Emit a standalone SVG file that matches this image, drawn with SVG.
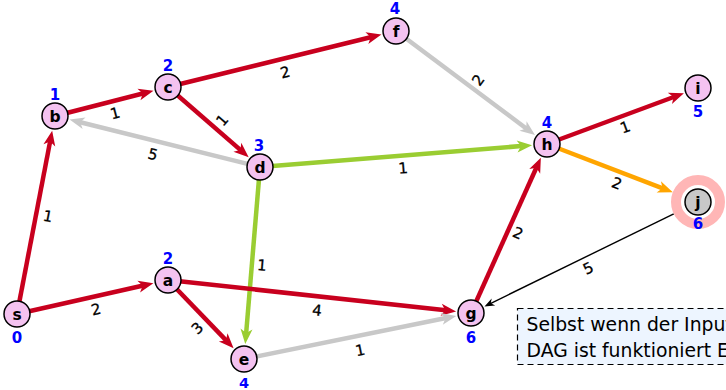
<svg xmlns="http://www.w3.org/2000/svg" width="726" height="390" viewBox="0 0 726 390">
<style>
.e{fill:none;stroke-width:4.5;stroke-linecap:butt}
.red{stroke:#c8001e}
.gray{stroke:#c8c8c8}
.green{stroke:#9acd32}
.orange{stroke:#ffa500}
.thin{stroke:#000;stroke-width:1.4;fill:none}
.n{fill:#f4c2f0;stroke:#000;stroke-width:1.5}
.nl{font-family:"DejaVu Sans",sans-serif;font-weight:bold;font-size:15.5px;text-anchor:middle;fill:#000}
.d{font-family:"DejaVu Sans",sans-serif;font-weight:bold;font-size:15px;text-anchor:middle;fill:#0000ff}
.w{font-family:"DejaVu Sans",sans-serif;font-size:15px;text-anchor:middle;fill:#000;stroke:#000;stroke-width:0.3}
.note{font-family:"DejaVu Sans",sans-serif;font-size:18.8px;fill:#000}
</style>
<defs>
<marker id="aR" markerUnits="userSpaceOnUse" orient="auto" refX="7" refY="0" markerWidth="20" markerHeight="20" overflow="visible"><path d="M0,-6 L15,0 L0,6 L4,0 z" fill="#c8001e"/></marker>
<marker id="aG" markerUnits="userSpaceOnUse" orient="auto" refX="7" refY="0" markerWidth="20" markerHeight="20" overflow="visible"><path d="M0,-6 L15,0 L0,6 L4,0 z" fill="#c8c8c8"/></marker>
<marker id="aL" markerUnits="userSpaceOnUse" orient="auto" refX="7" refY="0" markerWidth="20" markerHeight="20" overflow="visible"><path d="M0,-6 L15,0 L0,6 L4,0 z" fill="#9acd32"/></marker>
<marker id="aO" markerUnits="userSpaceOnUse" orient="auto" refX="7" refY="0" markerWidth="20" markerHeight="20" overflow="visible"><path d="M0,-6 L15,0 L0,6 L4,0 z" fill="#ffa500"/></marker>
<marker id="aK" markerUnits="userSpaceOnUse" orient="auto" refX="4" refY="0" markerWidth="14" markerHeight="14" overflow="visible"><path d="M0,-4 L10,0 L0,4 L3,0 z" fill="#000"/></marker>
</defs>
<g id="connectors">
<line class="e red" x1="17" y1="314" x2="50.66" y2="138.59" marker-end="url(#aR)"/>
<line class="e red" x1="17" y1="314" x2="145.56" y2="285.05" marker-end="url(#aR)"/>
<line class="e red" x1="55" y1="116" x2="145.73" y2="92.72" marker-end="url(#aR)"/>
<line class="e red" x1="168" y1="87" x2="373.66" y2="36.49" marker-end="url(#aR)"/>
<line class="e red" x1="168" y1="87" x2="242.64" y2="151.91" marker-end="url(#aR)"/>
<line class="e gray" x1="260" y1="167" x2="77.32" y2="121.55" marker-end="url(#aG)"/>
<line class="e green" x1="260" y1="167" x2="524.07" y2="145.84" marker-end="url(#aL)"/>
<line class="e green" x1="260" y1="167" x2="245.91" y2="336.08" marker-end="url(#aL)"/>
<line class="e gray" x1="396" y1="31" x2="528.59" y2="130.22" marker-end="url(#aG)"/>
<line class="e red" x1="547" y1="144" x2="676.44" y2="96.0" marker-end="url(#aR)"/>
<line class="e orange" x1="547" y1="144" x2="665.33" y2="189.45" marker-end="url(#aO)"/>
<line class="thin" x1="673.75" y1="213.86" x2="489.86" y2="303.77" marker-end="url(#aK)"/>
<line class="e red" x1="471" y1="313" x2="537.57" y2="164.98" marker-end="url(#aR)"/>
<line class="e red" x1="168" y1="280" x2="448.14" y2="310.51" marker-end="url(#aR)"/>
<line class="e red" x1="168" y1="280" x2="228.05" y2="342.42" marker-end="url(#aR)"/>
<line class="e gray" x1="244" y1="359" x2="448.46" y2="317.57" marker-end="url(#aG)"/>
</g>
<g id="weights">
<text class="w" transform="translate(48,216) rotate(11)" y="5.5">1</text>
<text class="w" transform="translate(96,309) rotate(-12.7)" y="5.5">2</text>
<text class="w" transform="translate(115,113) rotate(-14.4)" y="5.5">1</text>
<text class="w" transform="translate(285,72) rotate(-13.8)" y="5.5">2</text>
<text class="w" transform="translate(222,120) rotate(-49)" y="5.5">1</text>
<text class="w" transform="translate(153,154) rotate(14)" y="5.5">5</text>
<text class="w" transform="translate(403,168) rotate(-4.6)" y="5.5">1</text>
<text class="w" transform="translate(262,265) rotate(4.8)" y="5.5">1</text>
<text class="w" transform="translate(478,80) rotate(-53)" y="5.5">2</text>
<text class="w" transform="translate(625,127) rotate(-20.3)" y="5.5">1</text>
<text class="w" transform="translate(617,183) rotate(21)" y="5.5">2</text>
<text class="w" transform="translate(588,268) rotate(-26)" y="5.5">5</text>
<text class="w" transform="translate(518,233) rotate(24)" y="5.5">2</text>
<text class="w" transform="translate(317,310) rotate(6.2)" y="5.5">4</text>
<text class="w" transform="translate(197,328) rotate(-44)" y="5.5">3</text>
<text class="w" transform="translate(360,350) rotate(-11.5)" y="5.5">1</text>
</g>
<g id="node-s"><circle class="n" cx="17" cy="314" r="13"/><text class="nl" x="17" y="319.5">s</text><text class="d" x="17" y="342.5">0</text></g>
<g id="node-a"><circle class="n" cx="168" cy="280" r="13"/><text class="nl" x="168" y="285.5">a</text><text class="d" x="168" y="263.5">2</text></g>
<g id="node-b"><circle class="n" cx="55" cy="116" r="13"/><text class="nl" x="55" y="121.5">b</text><text class="d" x="55" y="99.5">1</text></g>
<g id="node-c"><circle class="n" cx="168" cy="87" r="13"/><text class="nl" x="168" y="92.5">c</text><text class="d" x="168" y="70.5">2</text></g>
<g id="node-d"><circle class="n" cx="260" cy="167" r="13"/><text class="nl" x="260" y="172.5">d</text><text class="d" x="259" y="150.5">3</text></g>
<g id="node-e"><circle class="n" cx="244" cy="359" r="13"/><text class="nl" x="244" y="364.5">e</text><text class="d" x="244" y="387.5" style="font-size:14.5px">4</text></g>
<g id="node-f"><circle class="n" cx="396" cy="31" r="13"/><text class="nl" x="396" y="36.5">f</text><text class="d" x="395" y="13.5">4</text></g>
<g id="node-g"><circle class="n" cx="471" cy="313" r="13"/><text class="nl" x="471" y="318.5">g</text><text class="d" x="471" y="342.5">6</text></g>
<g id="node-h"><circle class="n" cx="547" cy="144" r="13"/><text class="nl" x="547" y="149.5">h</text><text class="d" x="547" y="127.5">4</text></g>
<g id="node-i"><circle class="n" cx="698" cy="88" r="13"/><text class="nl" x="698" y="93.5">i</text><text class="d" x="698" y="116.5">5</text></g>
<g id="node-j"><circle cx="698" cy="202" r="22" fill="none" stroke="#ffb6b6" stroke-width="10"/><circle cx="698" cy="202" r="13" fill="#c8c8c8" stroke="#000" stroke-width="1.5"/><text class="nl" x="698" y="207.5">j</text><text class="d" x="698" y="228.5">6</text></g>
<g id="note">
<rect x="517.5" y="308.5" width="220" height="56" fill="#edf5ff" stroke="#000" stroke-width="1.2" stroke-dasharray="6,4"/>
<text class="note" x="526.5" y="331">Selbst wenn der Input</text>
<text class="note" x="526.5" y="357">DAG ist funktioniert E</text>
</g>
</svg>
